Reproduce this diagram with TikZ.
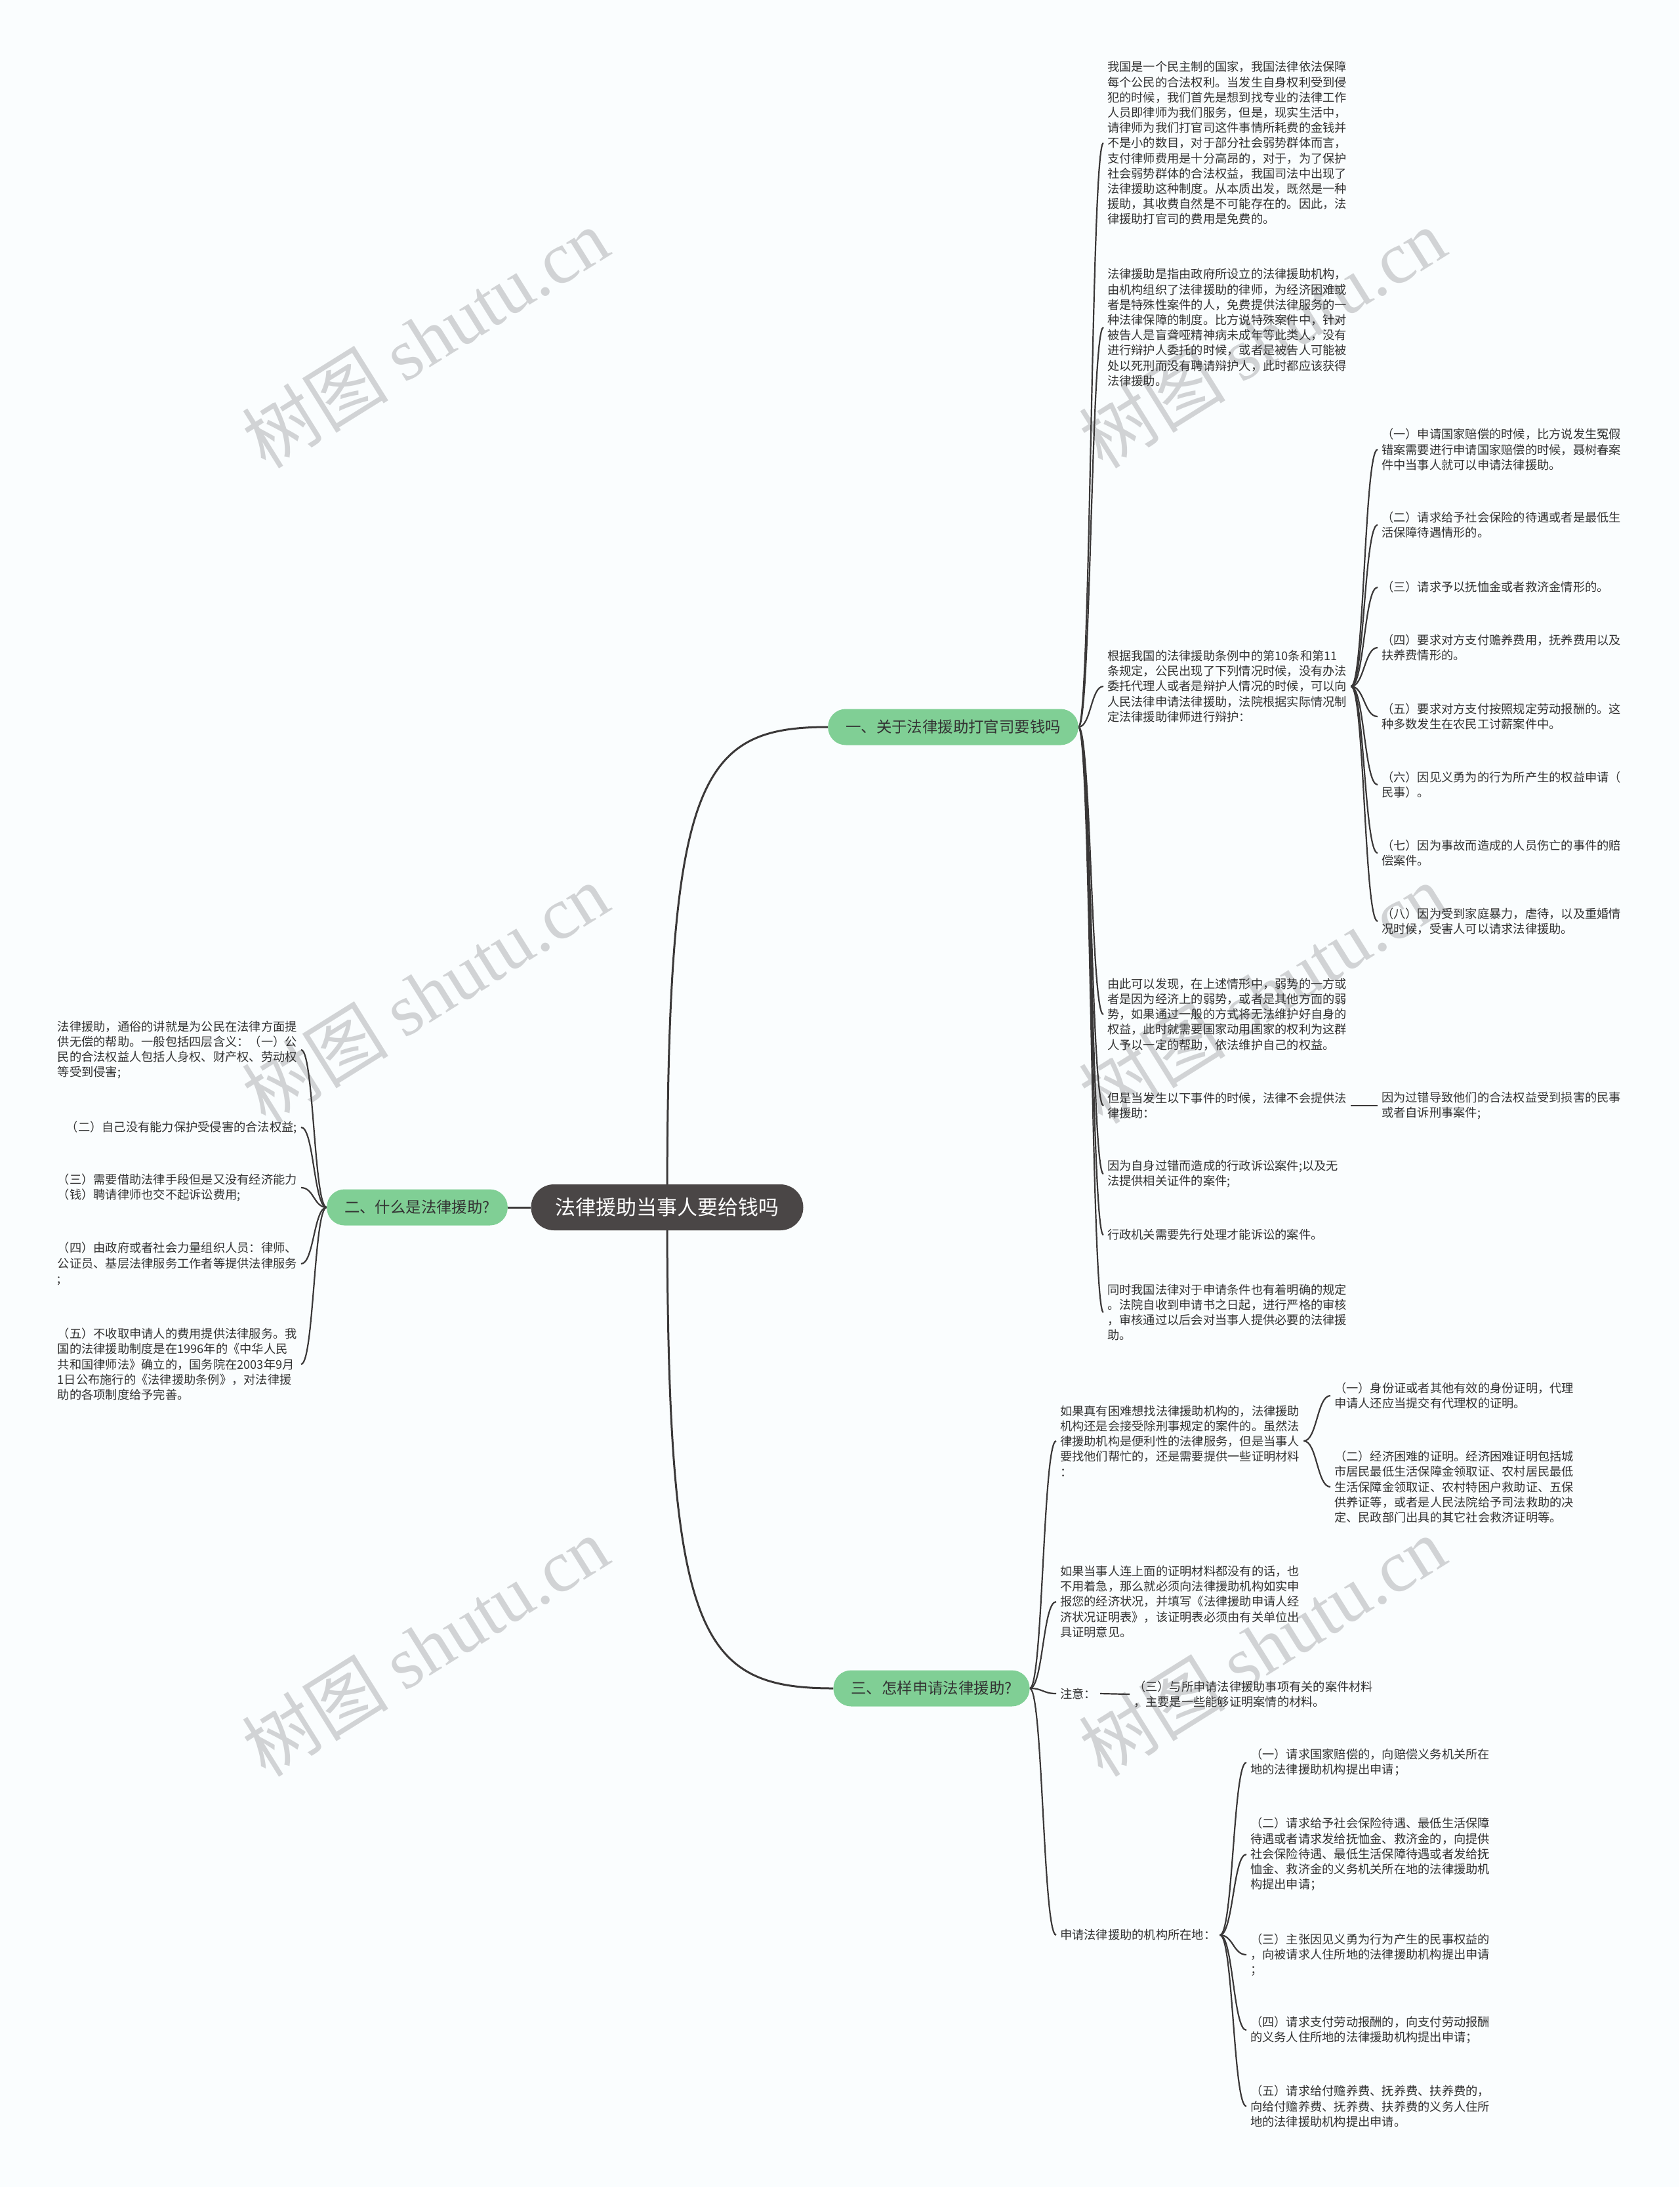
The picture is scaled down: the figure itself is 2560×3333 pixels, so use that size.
\documentclass[tikz,border=0pt]{standalone}
\usepackage{fontspec}
\setmainfont{Noto Sans CJK SC}
\newfontfamily\wmlatin{Liberation Serif}
\usetikzlibrary{calc,backgrounds}
\definecolor{bgc}{HTML}{FAFDFE}
\definecolor{linec}{HTML}{3A3838}
\definecolor{txtc}{HTML}{333333}
\definecolor{rootc}{HTML}{4A4646}
\definecolor{greenc}{HTML}{80CF95}
\definecolor{wmc}{HTML}{C4C6C8}
\tikzset{
  leaf/.style={font=\fontsize{18.25}{23.2}\selectfont, text=txtc, align=left, inner xsep=6pt, inner ysep=4pt},
  rleaf/.style={leaf, anchor=west},
  lleaf/.style={leaf, anchor=east},
  branchbox/.style={fill=greenc, rounded corners=27pt, minimum height=55pt, inner xsep=27pt, text=txtc, font=\fontsize{23.4}{26}\selectfont},
  rootbox/.style={fill=rootc, rounded corners=35pt, minimum height=70pt, inner xsep=37pt, text=white, font=\fontsize{31}{34}\selectfont},
  trunk/.style={draw=linec, line width=3pt},
  link/.style={draw=linec, line width=2.2pt, to path={let \p1=(\tikztostart), \p2=(\tikztotarget) in .. controls ({(\x1+\x2)/2},\y1) and ({(\x1+\x2)/2},\y2) .. (\tikztotarget)}},
  wmark/.style={rotate=32, text=wmc, opacity=0.75, font=\fontsize{112}{112}\selectfont}
}
\begin{document}
\begin{tikzpicture}[x=1pt,y=-1pt]
\useasboundingbox (0,0) rectangle (2560,3333);
% root and branches
\node[rootbox] (root) at (1017,1840) {法律援助当事人要给钱吗};
\node[branchbox] (b1) at (1453,1108) {一、关于法律援助打官司要钱吗};
\node[branchbox] (b2) at (636,1840) {二、什么是法律援助?};
\node[branchbox] (b3) at (1420,2573) {三、怎样申请法律援助?};
% branch 1 leaves
\node[rleaf] (r1) at (1682,218) {我国是一个民主制的国家，我国法律依法保障\\每个公民的合法权利。当发生自身权利受到侵\\犯的时候，我们首先是想到找专业的法律工作\\人员即律师为我们服务，但是，现实生活中，\\请律师为我们打官司这件事情所耗费的金钱并\\不是小的数目，对于部分社会弱势群体而言，\\支付律师费用是十分高昂的，对于，为了保护\\社会弱势群体的合法权益，我国司法中出现了\\法律援助这种制度。从本质出发，既然是一种\\援助，其收费自然是不可能存在的。因此，法\\律援助打官司的费用是免费的。};
\node[rleaf] (r2) at (1682,499) {法律援助是指由政府所设立的法律援助机构，\\由机构组织了法律援助的律师，为经济困难或\\者是特殊性案件的人，免费提供法律服务的一\\种法律保障的制度。比方说特殊案件中，针对\\被告人是盲聋哑精神病未成年等此类人，没有\\进行辩护人委托的时候，或者是被告人可能被\\处以死刑而没有聘请辩护人，此时都应该获得\\法律援助。};
\node[rleaf] (r3) at (1682,1046) {根据我国的法律援助条例中的第10条和第11\\条规定，公民出现了下列情况时候，没有办法\\委托代理人或者是辩护人情况的时候，可以向\\人民法律申请法律援助，法院根据实际情况制\\定法律援助律师进行辩护：};
\node[rleaf] (r4) at (1682,1546) {由此可以发现，在上述情形中，弱势的一方或\\者是因为经济上的弱势，或者是其他方面的弱\\势，如果通过一般的方式将无法维护好自身的\\权益，此时就需要国家动用国家的权利为这群\\人予以一定的帮助，依法维护自己的权益。};
\node[rleaf] (r5) at (1682,1685) {但是当发生以下事件的时候，法律不会提供法\\律援助：};
\node[rleaf] (r6) at (1682,1789) {因为自身过错而造成的行政诉讼案件;以及无\\法提供相关证件的案件;};
\node[rleaf] (r7) at (1682,1882) {行政机关需要先行处理才能诉讼的案件。};
\node[rleaf] (r8) at (1682,2000) {同时我国法律对于申请条件也有着明确的规定\\。法院自收到申请书之日起，进行严格的审核\\，审核通过以后会对当事人提供必要的法律援\\助。};
\node[rleaf] (s1) at (2100,1685) {因为过错导致他们的合法权益受到损害的民事\\或者自诉刑事案件;};
% r3 children
\node[rleaf] (a1) at (2100,685) {（一）申请国家赔偿的时候，比方说发生冤假\\错案需要进行申请国家赔偿的时候，聂树春案\\件中当事人就可以申请法律援助。};
\node[rleaf] (a2) at (2100,800) {（二）请求给予社会保险的待遇或者是最低生\\活保障待遇情形的。};
\node[rleaf] (a3) at (2100,895) {（三）请求予以抚恤金或者救济金情形的。};
\node[rleaf] (a4) at (2100,987) {（四）要求对方支付赡养费用，抚养费用以及\\扶养费情形的。};
\node[rleaf] (a5) at (2100,1092) {（五）要求对方支付按照规定劳动报酬的。这\\种多数发生在农民工讨薪案件中。};
\node[rleaf] (a6) at (2100,1196) {（六）因见义勇为的行为所产生的权益申请（\\民事）。};
\node[rleaf] (a7) at (2100,1300) {（七）因为事故而造成的人员伤亡的事件的赔\\偿案件。};
\node[rleaf] (a8) at (2100,1404) {（八）因为受到家庭暴力，虐待，以及重婚情\\况时候，受害人可以请求法律援助。};
% branch 2 leaves
\node[lleaf] (l1) at (459,1600) {法律援助，通俗的讲就是为公民在法律方面提\\供无偿的帮助。一般包括四层含义：（一）公\\民的合法权益人包括人身权、财产权、劳动权\\等受到侵害;};
\node[lleaf] (l2) at (459,1718) {（二）自己没有能力保护受侵害的合法权益;};
\node[lleaf] (l3) at (459,1810) {（三）需要借助法律手段但是又没有经济能力\\（钱）聘请律师也交不起诉讼费用;};
\node[lleaf] (l4) at (459,1926) {（四）由政府或者社会力量组织人员：律师、\\公证员、基层法律服务工作者等提供法律服务\\;};
\node[lleaf] (l5) at (459,2079) {（五）不收取申请人的费用提供法律服务。我\\国的法律援助制度是在1996年的《中华人民\\共和国律师法》确立的，国务院在2003年9月\\1日公布施行的《法律援助条例》，对法律援\\助的各项制度给予完善。};
% branch 3 leaves
\node[rleaf] (c1) at (1610,2196) {如果真有困难想找法律援助机构的，法律援助\\机构还是会接受除刑事规定的案件的。虽然法\\律援助机构是便利性的法律服务，但是当事人\\要找他们帮忙的，还是需要提供一些证明材料\\：};
\node[rleaf] (c2) at (1610,2441) {如果当事人连上面的证明材料都没有的话，也\\不用着急，那么就必须向法律援助机构如实申\\报您的经济状况，并填写《法律援助申请人经\\济状况证明表》，该证明表必须由有关单位出\\具证明意见。};
\node[rleaf] (c3) at (1610,2581) {注意：};
\node[rleaf] (c4) at (1610,2949) {申请法律援助的机构所在地：};
\node[rleaf] (d1) at (2028,2127) {（一）身份证或者其他有效的身份证明，代理\\申请人还应当提交有代理权的证明。};
\node[rleaf] (d2) at (2028,2266) {（二）经济困难的证明。经济困难证明包括城\\市居民最低生活保障金领取证、农村居民最低\\生活保障金领取证、农村特困户救助证、五保\\供养证等，或者是人民法院给予司法救助的决\\定、民政部门出具的其它社会救济证明等。};
\node[rleaf] (e1) at (1722,2582) {（三）与所申请法律援助事项有关的案件材料\\，主要是一些能够证明案情的材料。};
\node[rleaf] (f1) at (1900,2686) {（一）请求国家赔偿的，向赔偿义务机关所在\\地的法律援助机构提出申请；};
\node[rleaf] (f2) at (1900,2826) {（二）请求给予社会保险待遇、最低生活保障\\待遇或者请求发给抚恤金、救济金的，向提供\\社会保险待遇、最低生活保障待遇或者发给抚\\恤金、救济金的义务机关所在地的法律援助机\\构提出申请；};
\node[rleaf] (f3) at (1900,2979) {（三）主张因见义勇为行为产生的民事权益的\\，向被请求人住所地的法律援助机构提出申请\\；};
\node[rleaf] (f4) at (1900,3094) {（四）请求支付劳动报酬的，向支付劳动报酬\\的义务人住所地的法律援助机构提出申请；};
\node[rleaf] (f5) at (1900,3210) {（五）请求给付赡养费、抚养费、扶养费的，\\向给付赡养费、抚养费、扶养费的义务人住所\\地的法律援助机构提出申请。};
\begin{scope}[on background layer]
\fill[bgc] (0,0) rectangle (2560,3333);
% watermarks
\node[wmark] (w1) at (648,515) {树图 {\wmlatin shutu.cn}};
\node[wmark] (w2) at (648,1514) {树图 {\wmlatin shutu.cn}};
\node[wmark] (w3) at (648,2509) {树图 {\wmlatin shutu.cn}};
\node[wmark] (w4) at (1924,515) {树图 {\wmlatin shutu.cn}};
\node[wmark] (w5) at (1924,1514) {树图 {\wmlatin shutu.cn}};
\node[wmark] (w6) at (1924,2509) {树图 {\wmlatin shutu.cn}};
% root connectors
\draw[trunk] (root.center) .. controls (1017,1190) and (1063,1108) .. (b1.west);
\draw[trunk] (root.center) .. controls (1017,2490) and (1063,2573) .. (b3.west);
\draw[trunk] (root.west) -- (b2.east);
% branch 1
\foreach \nm in {r1,r2,r3,r4,r5,r6,r7,r8} \draw[link] (b1.east) to (\nm.west);
\foreach \nm in {a1,a2,a3,a4,a5,a6,a7,a8} \draw[link] (r3.east) to (\nm.west);
\draw[link] (r5.east) -- (s1.west);
% branch 2
\foreach \nm in {l1,l2,l3,l4,l5} \draw[link] (b2.west) to (\nm.east);
% branch 3
\foreach \nm in {c1,c2,c3,c4} \draw[link] (b3.east) to (\nm.west);
\foreach \nm in {d1,d2} \draw[link] (c1.east) to (\nm.west);
\draw[link] (c3.east) -- (e1.west);
\foreach \nm in {f1,f2,f3,f4,f5} \draw[link] (c4.east) to (\nm.west);
\end{scope}
\end{tikzpicture}
\end{document}
